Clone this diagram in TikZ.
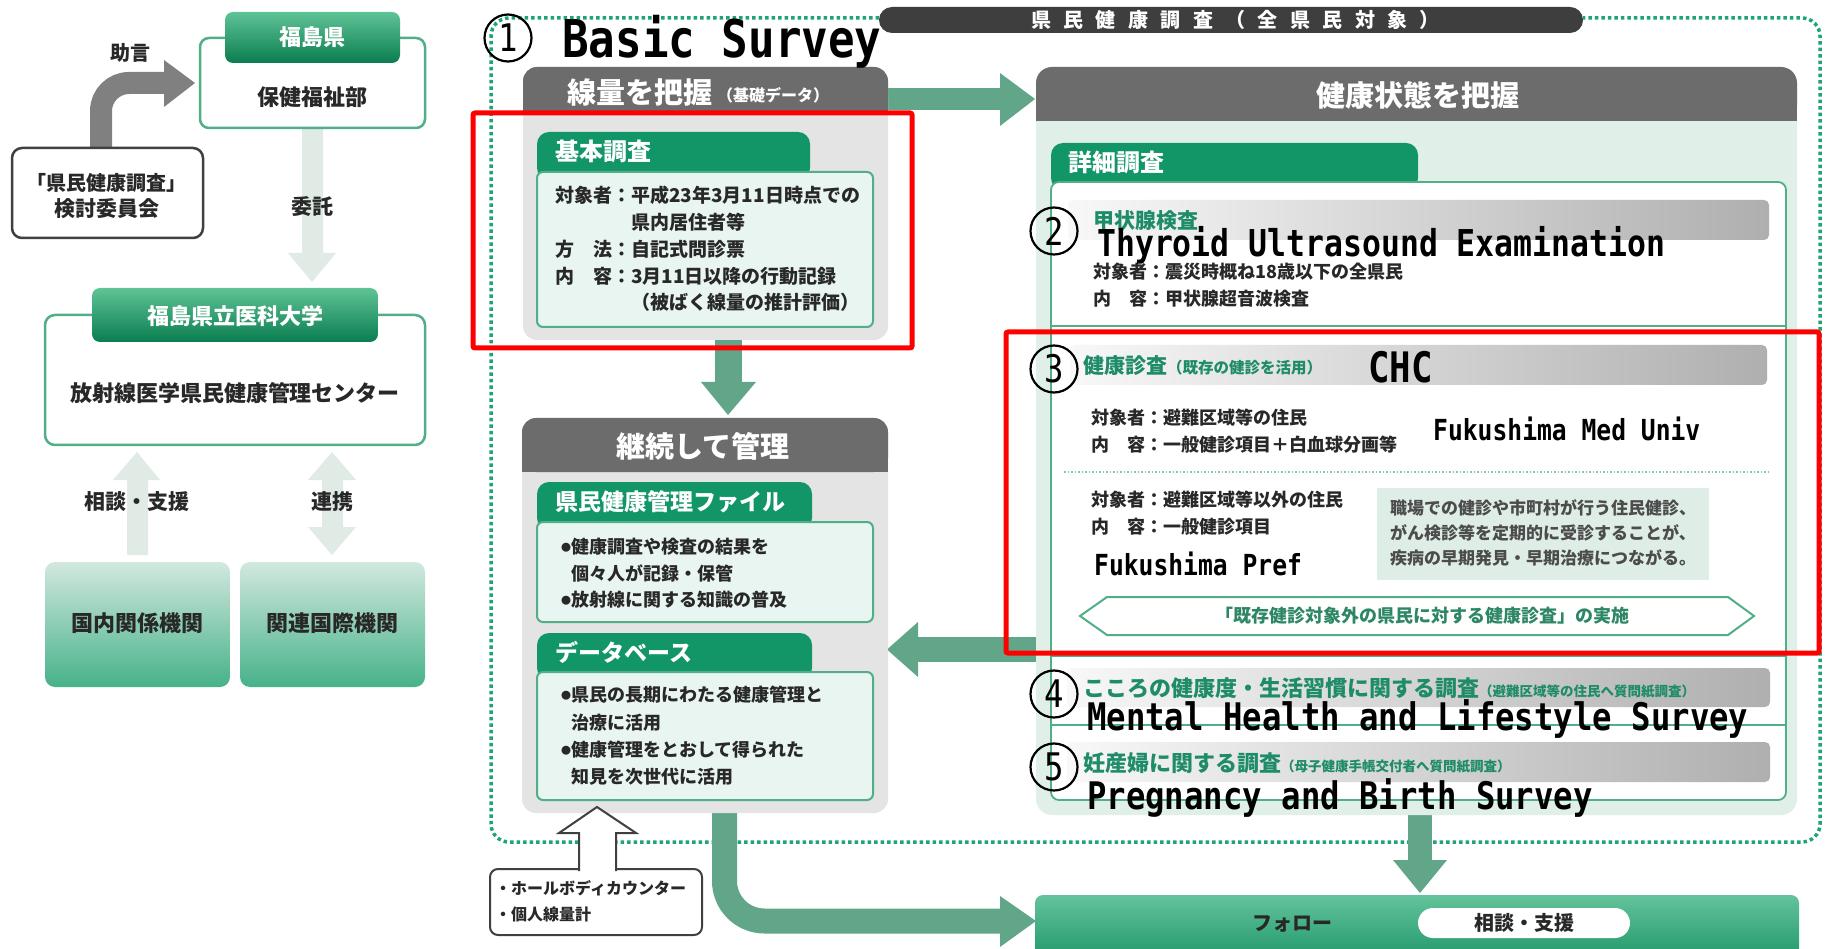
\documentclass[tikz,border=0pt]{standalone}
\usepackage{fontspec}
\setmainfont{Noto Sans CJK JP}
\newfontfamily\pillfont[LetterSpace=62]{Noto Sans CJK JP}
\newfontfamily\enmono[FakeStretch=0.85]{DejaVu Sans Mono}
\newcommand\fsz[1]{\fontsize{#1}{#1}\selectfont}
\definecolor{dkgray}{RGB}{108,108,108}
\definecolor{pillgray}{RGB}{62,62,62}
\definecolor{panelgray}{RGB}{228,228,228}
\definecolor{tabgreen}{RGB}{18,150,104}
\definecolor{mint}{RGB}{233,245,240}
\definecolor{mintpanel}{RGB}{224,240,232}
\definecolor{mintbox}{RGB}{222,238,230}
\definecolor{bordergreen}{RGB}{80,175,135}
\definecolor{arrowgreen}{RGB}{98,166,138}
\definecolor{dotgreen}{RGB}{30,165,115}
\definecolor{lightarrow}{RGB}{224,235,229}
\definecolor{titlegreen}{RGB}{30,140,105}
\definecolor{hexgreen}{RGB}{45,135,100}
\definecolor{txtgray}{RGB}{40,40,40}
\definecolor{redbox}{RGB}{255,0,0}
\definecolor{grayarrow}{RGB}{128,128,128}
\definecolor{hdrlight}{RGB}{95,195,150}
\definecolor{hdrdark}{RGB}{10,125,80}
\definecolor{boxtop}{RGB}{210,232,222}
\definecolor{boxbot}{RGB}{70,178,138}
\definecolor{barl}{RGB}{248,248,248}
\definecolor{barr}{RGB}{175,175,175}
\definecolor{folltop}{RGB}{100,195,155}
\definecolor{follbot}{RGB}{30,150,105}
\begin{document}
\begin{tikzpicture}[x=1pt,y=-1pt,
  txt/.style={inner sep=0pt, anchor=west, text=txtgray},
  ctxt/.style={inner sep=0pt, text=txtgray},
  wtxt/.style={inner sep=0pt, text=white, font=\bfseries\fsz{29}},
  gtitle/.style={inner sep=0pt, anchor=west, text=titlegreen, font=\bfseries\fsz{22}},
  en/.style={inner sep=0pt, anchor=base west, text=black},
  num/.style={circle, draw=black, line width=2.2pt, minimum size=47pt, inner sep=0pt, font=\enmono\fsz{38}},
  bar/.style={left color=barl, right color=barr, rounded corners=5},
  tabfill/.style={fill=tabgreen, rounded corners=12},
  innerbox/.style={draw=bordergreen, line width=2pt, fill=mint, rounded corners=6}
]
\useasboundingbox (0,0) rectangle (1837,949);
\fill[white] (0,0) rectangle (1837,949);

% ---------- dotted frame ----------
\draw[dotgreen, line width=3.5pt, dash pattern=on 3.5pt off 3pt, rounded corners=18]
  (879,18) -- (491,18) -- (491,842) -- (1820,842) -- (1820,18) -- (1583,18);
\fill[pillgray, rounded corners=13] (879,7) rectangle (1583,33);
\node[inner sep=0pt, anchor=west, text=white, font=\pillfont\bfseries\fsz{20}] (pilltxt) at (1031,20) {県民健康調査（全県民対象）};

% ---------- left column ----------
\draw[grayarrow, line width=22pt, rounded corners=28] (101,150) -- (101,83) -- (166,83);
\fill[grayarrow] (164,60) -- (195,83) -- (164,107) -- cycle;
\node[ctxt, font=\bfseries\fsz{20}] (jogen) at (130,53) {助言};

\fill[lightarrow] (302,128) -- (323,128) -- (323,253) -- (336,253) -- (312,282) -- (288,253) -- (302,253) -- cycle;
\node[ctxt, font=\bfseries\fsz{21}] (itaku) at (312,207) {委託};

\draw[bordergreen, line width=2.5pt, fill=white, rounded corners=9] (200,38) rectangle (425,128);
\shade[top color=hdrlight, bottom color=hdrdark, rounded corners=8] (225,12) rectangle (400,63);
\node[ctxt, text=white, font=\bfseries\fsz{22}] (kenhdr) at (312,37) {福島県};
\node[ctxt, font=\bfseries\fsz{22}] (hoken) at (312,97) {保健福祉部};

\draw[black!75, line width=2.5pt, fill=white, rounded corners=10] (12,148) rectangle (203,238);
\node[ctxt, font=\bfseries\fsz{20}] (kentoA) at (107,183) {「県民健康調査」};
\node[ctxt, font=\bfseries\fsz{21}] (kentoB) at (107,209) {検討委員会};

\draw[bordergreen, line width=2.5pt, fill=white, rounded corners=10] (45,315) rectangle (425,445);
\shade[top color=hdrlight, bottom color=hdrdark, rounded corners=8] (92,288) rectangle (378,342);
\node[ctxt, text=white, font=\bfseries\fsz{22}] (idaihdr) at (235,316) {福島県立医科大学};
\node[ctxt, font=\bfseries\fsz{22}] (center) at (235,393) {放射線医学県民健康管理センター};

\fill[lightarrow] (127,555) -- (148,555) -- (148,480) -- (160,480) -- (137,452) -- (113,480) -- (127,480) -- cycle;
\fill[lightarrow] (332,452) -- (356,480) -- (343,480) -- (343,527) -- (356,527) -- (332,555) -- (308,527) -- (322,527) -- (322,480) -- (308,480) -- cycle;
\node[ctxt, font=\bfseries\fsz{21}] (sodanL) at (137,502) {相談・支援};
\node[ctxt, font=\bfseries\fsz{21}] (renkei) at (332,502) {連携};

\shade[top color=boxtop, bottom color=boxbot, rounded corners=10] (45,562) rectangle (230,687);
\shade[top color=boxtop, bottom color=boxbot, rounded corners=10] (240,562) rectangle (425,687);
\node[ctxt, font=\bfseries\fsz{22}] (kokunai) at (137,623) {国内関係機関};
\node[ctxt, font=\bfseries\fsz{22}] (kokusai) at (332,623) {関連国際機関};

% ---------- green arrows (behind panels) ----------
\fill[arrowgreen] (885,88) rectangle (1001,110);
\fill[arrowgreen] (1000,73) -- (1035,99) -- (1000,126) -- cycle;
\fill[arrowgreen] (715,336) rectangle (742,383);
\fill[arrowgreen] (701,382) -- (756,382) -- (728,415) -- cycle;
\fill[arrowgreen] (917,637) rectangle (1040,662);
\fill[arrowgreen] (918,622) -- (887,649.5) -- (918,677) -- cycle;
\fill[arrowgreen] (1408,812) rectangle (1432,861);
\fill[arrowgreen] (1393,860) -- (1447,860) -- (1420,893) -- cycle;
\draw[arrowgreen, line width=25pt, rounded corners=40] (724.5,805) -- (724.5,921) -- (1002,921);
\fill[arrowgreen] (1000,896) -- (1036,921) -- (1000,947) -- cycle;

% ---------- dose panel ----------
\fill[panelgray, rounded corners=14] (523,67) rectangle (888,340);
\fill[dkgray, rounded corners=14] (523,67) rectangle (888,111);
\fill[dkgray] (523,95) rectangle (888,111);
\node[wtxt, anchor=west] (senryo) at (567,92) {線量を把握};
\node[inner sep=0pt, anchor=west, text=white, font=\bfseries\fsz{16}] (kiso) at (717,95) {（基礎データ）};
\fill[tabfill] (537,132) rectangle (810,180);
\draw[innerbox] (537,172) rectangle (873,327);
\node[inner sep=0pt, anchor=west, text=white, font=\bfseries\fsz{24}] (kihon) at (555,151) {基本調査};
\node[txt, font=\bfseries\fsz{19}] (k1) at (555,195) {対象者：平成23年3月11日時点での};
\node[txt, font=\bfseries\fsz{19}] (k2) at (631,222) {県内居住者等};
\node[txt, font=\bfseries\fsz{19}] (k3) at (555,249) {方　法：自記式問診票};
\node[txt, font=\bfseries\fsz{19}] (k4) at (555,276) {内　容：3月11日以降の行動記録};
\node[txt, font=\bfseries\fsz{19}] (k5) at (631,302) {（被ばく線量の推計評価）};

% ---------- management panel ----------
\fill[panelgray, rounded corners=14] (522,418) rectangle (888,813);
\fill[dkgray, rounded corners=14] (522,418) rectangle (888,472);
\fill[dkgray] (522,445) rectangle (888,472);
\node[wtxt] (keizoku) at (703,446) {継続して管理};
\fill[tabfill] (537,482) rectangle (812,530);
\draw[innerbox] (537,522) rectangle (873,622);
\fill[tabfill] (537,633) rectangle (812,680);
\draw[innerbox] (537,672) rectangle (873,800);
\node[inner sep=0pt, anchor=west, text=white, font=\bfseries\fsz{23}] (file) at (555,502) {県民健康管理ファイル};
\node[inner sep=0pt, anchor=west, text=white, font=\bfseries\fsz{23}] (db) at (555,652) {データベース};
\node[txt, font=\bfseries\fsz{18}] (f1) at (561,547) {\raisebox{2pt}{\fsz{10}●}健康調査や検査の結果を};
\node[txt, font=\bfseries\fsz{18}] (f2) at (571,573) {個々人が記録・保管};
\node[txt, font=\bfseries\fsz{18}] (f3) at (561,600) {\raisebox{2pt}{\fsz{10}●}放射線に関する知識の普及};
\node[txt, font=\bfseries\fsz{18}] (d1) at (561,695) {\raisebox{2pt}{\fsz{10}●}県民の長期にわたる健康管理と};
\node[txt, font=\bfseries\fsz{18}] (d2) at (571,723) {治療に活用};
\node[txt, font=\bfseries\fsz{18}] (d3) at (561,750) {\raisebox{2pt}{\fsz{10}●}健康管理をとおして得られた};
\node[txt, font=\bfseries\fsz{18}] (d4) at (571,777) {知見を次世代に活用};

% ---------- callout ----------
\draw[black!75, line width=2pt, fill=white, rounded corners=8] (490,869) rectangle (702,935);
\draw[black!75, line width=2pt, fill=white] (579,871) -- (579,833) -- (559,833) -- (597,807) -- (636,833) -- (616,833) -- (616,871);
\fill[white] (580.5,862) rectangle (614.5,872.5);
\node[txt, font=\bfseries\fsz{16}] (wbc) at (495,888) {・ホールボディカウンター};
\node[txt, font=\bfseries\fsz{16}] (dosim) at (495,914) {・個人線量計};

% ---------- health panel ----------
\fill[mintpanel, rounded corners=16] (1036,67) rectangle (1797,815);
\fill[dkgray, rounded corners=16] (1036,67) rectangle (1797,121);
\fill[dkgray] (1036,95) rectangle (1797,121);
\node[wtxt] (kenko) at (1418,95) {健康状態を把握};
\fill[tabfill] (1051,143) rectangle (1418,190);
\node[inner sep=0pt, anchor=west, text=white, font=\bfseries\fsz{24}] (shosai) at (1068,162) {詳細調査};
\draw[bordergreen, line width=1.8pt, fill=white, rounded corners=8] (1051,182) rectangle (1786,800);
\draw[bordergreen, line width=1.5pt] (1051,326) -- (1786,326);
\draw[bordergreen, line width=1.5pt] (1051,656) -- (1786,656);
\draw[bordergreen, line width=1.5pt] (1051,725) -- (1786,725);

% section 2
\shade[bar] (1068,200) rectangle (1769,240);
\node[gtitle, font=\bfseries\fsz{21}] (koujo) at (1093,221) {甲状腺検査};
\node[txt, font=\bfseries\fsz{18}] (s2a) at (1093,272) {対象者：震災時概ね18歳以下の全県民};
\node[txt, font=\bfseries\fsz{18}] (s2b) at (1093,299) {内　容：甲状腺超音波検査};

% section 3
\shade[bar] (1070,345) rectangle (1767,385);
\node[gtitle, font=\bfseries\fsz{21}] (kenshin) at (1083,366) {健康診査{\fsz{15.5}（既存の健診を活用）}};
\node[txt, font=\bfseries\fsz{18}] (s3a) at (1091,418) {対象者：避難区域等の住民};
\node[txt, font=\bfseries\fsz{18}] (s3b) at (1091,445) {内　容：一般健診項目＋白血球分画等};
\draw[bordergreen!70, line width=1.2pt, dash pattern=on 1.5pt off 2pt] (1064,472) -- (1770,472);
\node[txt, font=\bfseries\fsz{18}] (s3c) at (1091,500) {対象者：避難区域等以外の住民};
\node[txt, font=\bfseries\fsz{18}] (s3d) at (1091,527) {内　容：一般健診項目};
\fill[mintbox] (1377,488) rectangle (1709,580);
\node[txt, text=black!70, font=\bfseries\fsz{17}] (m1) at (1390,508) {職場での健診や市町村が行う住民健診、};
\node[txt, text=black!70, font=\bfseries\fsz{17}] (m2) at (1390,533) {がん検診等を定期的に受診することが、};
\node[txt, text=black!70, font=\bfseries\fsz{17}] (m3) at (1390,558) {疾病の早期発見・早期治療につながる。};
\draw[bordergreen, line width=2pt, fill=white] (1080,616) -- (1107,597) -- (1728,597) -- (1754,616) -- (1728,635) -- (1107,635) -- cycle;
\node[ctxt, text=hexgreen, font=\bfseries\fsz{18}] (hex) at (1422,616) {「既存健診対象外の県民に対する健康診査」の実施};

% section 4, 5
\shade[bar] (1067,668) rectangle (1770,707);
\node[gtitle] (kokoro) at (1083,688) {こころの健康度・生活習慣に関する調査{\fsz{13.5}（避難区域等の住民へ質問紙調査）}};
\shade[bar] (1067,742) rectangle (1770,782);
\node[gtitle] (ninsan) at (1083,763) {妊産婦に関する調査{\fsz{13.5}（母子健康手帳交付者へ質問紙調査）}};

% ---------- follow bar ----------
\shade[top color=folltop, bottom color=follbot, rounded corners=8] (1035,895) rectangle (1799,962);
\fill[white, rounded corners=15] (1418,908) rectangle (1630,938);
\node[ctxt, font=\bfseries\fsz{20}] (follow) at (1292,924) {フォロー};
\node[ctxt, font=\bfseries\fsz{20}] (sodanR) at (1524,923) {相談・支援};

% ---------- red boxes ----------
\draw[redbox, line width=5pt, rounded corners=2] (473,113) rectangle (912,348);
\draw[redbox, line width=5pt, rounded corners=2] (1006,332) rectangle (1819,653);

% ---------- English labels ----------
\node[num] (c1) at (508,38) {1};
\node[en, font=\enmono\bfseries\fsz{52}] (lb1) at (562,58) {Basic Survey};
\node[num] (c2) at (1054,231) {2};
\node[en, font=\enmono\bfseries\fsz{37}] (lb2) at (1097,257) {Thyroid Ultrasound Examination};
\node[num] (c3) at (1054,369) {3};
\node[en, font=\enmono\bfseries\fsz{42}] (lb3) at (1368,383) {CHC};
\node[en, font=\enmono\bfseries\fsz{29}] (lb3a) at (1433,441) {Fukushima Med Univ};
\node[en, font=\enmono\bfseries\fsz{29}] (lb3b) at (1094,575) {Fukushima Pref};
\node[num] (c4) at (1054,694) {4};
\node[en, font=\enmono\bfseries\fsz{38}] (lb4) at (1087,730) {Mental Health and Lifestyle Survey};
\node[num] (c5) at (1054,767) {5};
\node[en, font=\enmono\bfseries\fsz{38}] (lb5) at (1087,809) {Pregnancy and Birth Survey};
\end{tikzpicture}
\end{document}
